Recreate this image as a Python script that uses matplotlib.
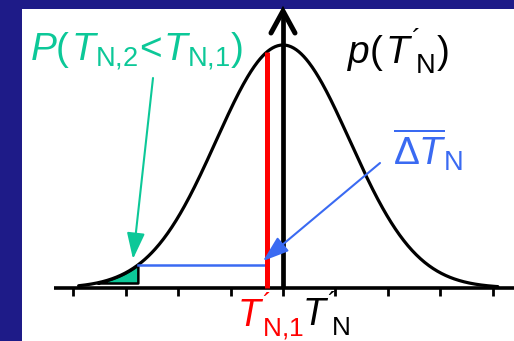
import numpy as np
import matplotlib
matplotlib.use('Agg')
import matplotlib.pyplot as plt
from matplotlib.patches import Rectangle

plt.rcParams['font.family'] = ['Liberation Sans', 'DejaVu Sans']
plt.rcParams['mathtext.fontset'] = 'custom'
plt.rcParams['mathtext.rm'] = 'Liberation Sans'
plt.rcParams['mathtext.it'] = 'Liberation Sans:italic'
plt.rcParams['mathtext.bf'] = 'Liberation Sans:bold'
plt.rcParams['mathtext.fallback'] = 'stixsans'

# ---- data (x in units of tick spacing, y as fraction of peak density) ----
tick_positions = [-4, -3, -2, -1, 0, 1, 2, 3, 4]
mean_T = 0.0          # mean of T'_N
sigma_T = 1.275       # spread of T'_N
T_N1 = -0.31          # observed T'_N,1 (red line)
threshold = -2.77     # lower threshold (blue line / green tail)
curve_range = (-3.9, 4.1)

label_P = r'$P(\hspace{0.08}T_{\mathrm{N{,}2}}\!<\!T_{\mathrm{N{,}1}})$'
label_p = r'$p(\hspace{0.08}T^{\mathrm{´}}_{\hspace{0.3}\mathrm{N}})$'
label_dT = r'$\overline{\Delta T}_{\mathrm{N}}$'
label_T1 = r'$T^{\mathrm{´}}_{\hspace{0.12}\mathrm{N{,}1}}$'
label_T = r'$T^{\mathrm{´}}_{\hspace{0.3}\mathrm{N}}$'

# ---- colours ----
navy = '#1e1b88'
green = '#0cc898'
blue = '#3a6af2'
red = '#ff0000'

W, H = 514, 341
fig = plt.figure(figsize=(W / 100, H / 100), dpi=100, facecolor=navy)
fig.patches.append(Rectangle((22 / W, 0), 1 - 22 / W, (H - 9) / H,
                             transform=fig.transFigure, facecolor='white',
                             edgecolor='none', zorder=0))

ax = fig.add_axes([0, 0, 1, 1])
ax.set_zorder(5)
ax.set_facecolor('none')
ax.patch.set_alpha(0)
x0px, unit, base_px, amp = 283.0, 52.4, 288.0, 243.0
ax.set_xlim(-x0px / unit, (W - x0px) / unit)
ax.set_ylim(-(H - base_px) / amp, base_px / amp)
ax.axis('off')


def P(px, py):
    return ((px - x0px) / unit, (base_px - py) / amp)


def pdf(x):
    return np.exp(-0.5 * ((np.asarray(x) - mean_T) / sigma_T) ** 2)


xs = np.linspace(curve_range[0], curve_range[1], 500)
ys = pdf(xs)

# green tail
tail_floor = 5 / amp
xt = np.linspace(curve_range[0], threshold, 200)
yt = pdf(xt)
mask = yt >= tail_floor
ax.fill_between(xt[mask], tail_floor, yt[mask], facecolor=green,
                edgecolor='black', linewidth=1.8, zorder=2)

# curve
ax.plot(xs, ys, color='black', lw=2.3, zorder=3, solid_capstyle='round')

# x axis & ticks
ax.plot([P(54, 0)[0], ax.get_xlim()[1]], [0, 0], color='black', lw=2.6,
        zorder=4, solid_capstyle='butt')
ax.vlines(tick_positions, -8 / amp, 0, color='black', lw=2.0, zorder=4)

# blue horizontal line
y_thr = float(pdf(threshold))
ax.plot([threshold, T_N1], [y_thr, y_thr], color=blue, lw=1.8, zorder=3)

# red line at T'_N,1
ax.plot([T_N1, T_N1], [0, float(pdf(T_N1))], color=red, lw=3.6, zorder=5,
        solid_capstyle='butt')

# black vertical axis arrow at the mean
top_y = P(0, 11)[1]
ax.plot([mean_T, mean_T], [0, top_y], color='black', lw=3.4, zorder=6,
        solid_capstyle='butt')
hx = 12 / unit
hy = P(0, 33)[1]
ax.plot([mean_T - hx, mean_T, mean_T + hx], [hy, top_y, hy], color='black',
        lw=3.6, zorder=6, solid_capstyle='round', solid_joinstyle='miter')

# green arrow
ax.annotate('', xy=P(133, 259), xytext=P(153, 78),
            arrowprops=dict(arrowstyle='-|>,head_length=1.6,head_width=0.55',
                            mutation_scale=10, color=green, lw=1.5,
                            shrinkA=0, shrinkB=0), zorder=6)
# blue arrow
ax.annotate('', xy=P(263, 261), xytext=P(380, 163),
            arrowprops=dict(arrowstyle='-|>,head_length=1.6,head_width=0.55',
                            mutation_scale=10, color=blue, lw=1.5,
                            shrinkA=0, shrinkB=0), zorder=7)

# labels
fs = 28
ax.text(*P(30, 60), label_P, color=green, fontsize=fs, ha='left',
        va='baseline', zorder=8)
ax.text(*P(347, 64), label_p, color='black', fontsize=fs, ha='left',
        va='baseline', zorder=8)
ax.text(*P(393, 165), label_dT, color=blue, fontsize=fs, ha='left',
        va='baseline', zorder=8)
ax.text(*P(237, 326), label_T1, color=red, fontsize=fs - 1, ha='left',
        va='baseline', zorder=8)
ax.text(*P(302, 326), label_T, color='black', fontsize=fs - 1, ha='left',
        va='baseline', zorder=8)

fig.savefig('out.png', dpi=100, facecolor=navy)
